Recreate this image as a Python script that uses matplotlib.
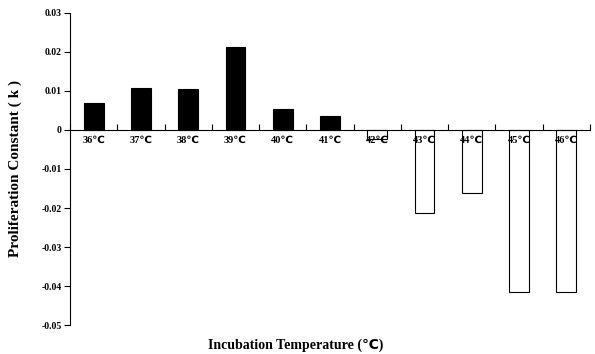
import numpy as np
import matplotlib
matplotlib.use("Agg")
import matplotlib.pyplot as plt

temps = ["36", "37", "38", "39", "40", "41", "42", "43", "44", "45", "46"]
k_values = [0.0069, 0.0107, 0.0104, 0.0214, 0.0055, 0.0036,
            -0.0023, -0.0213, -0.0162, -0.0415, -0.0415]
y_ticks = [0.03, 0.02, 0.01, 0, -0.01, -0.02, -0.03, -0.04, -0.05]
y_tick_labels = ["0.03", "0.02", "0.01", "0", "-0.01", "-0.02", "-0.03", "-0.04", "-0.05"]

fam = ["Liberation Serif", "DejaVu Sans"]

fig = plt.figure(figsize=(5.95, 3.54), dpi=100)
ax = fig.add_axes([0.1176, 0.0819, 0.8740, 0.8814])

x = np.arange(len(temps))
colors = ["black" if v > 0 else "white" for v in k_values]
ax.bar(x, k_values, width=0.42, color=colors, edgecolor="black", linewidth=0.8)

ax.set_xlim(-0.5, len(temps) - 0.5)
ax.set_ylim(-0.05, 0.03)

# x axis at zero, ticks at category boundaries pointing up
ax.spines["top"].set_visible(False)
ax.spines["right"].set_visible(False)
ax.spines["bottom"].set_position(("data", 0))
ax.set_xticks(np.arange(len(temps) + 1) - 0.5)
ax.set_xticklabels([])
ax.tick_params(axis="x", direction="in", length=4, width=0.8)
ax.tick_params(axis="y", direction="out", length=4, width=0.8, pad=2)
ax.set_yticks(y_ticks)
ax.set_yticklabels(y_tick_labels, fontfamily="Liberation Serif",
                   fontweight="bold", fontsize=7)

for i, t in enumerate(temps):
    ax.text(i, -0.0015, t + "\u2103", ha="center", va="top", fontsize=7.5,
            fontweight="bold", family=fam)

ax.set_ylabel("Proliferation Constant ( k )", family=fam, fontweight="bold",
              fontsize=11, labelpad=14)
fig.text(0.497, 0.025, "Incubation Temperature (\u2103)", ha="center",
         va="center", family=fam, fontweight="bold", fontsize=10)

fig.savefig("out.png", dpi=100)
